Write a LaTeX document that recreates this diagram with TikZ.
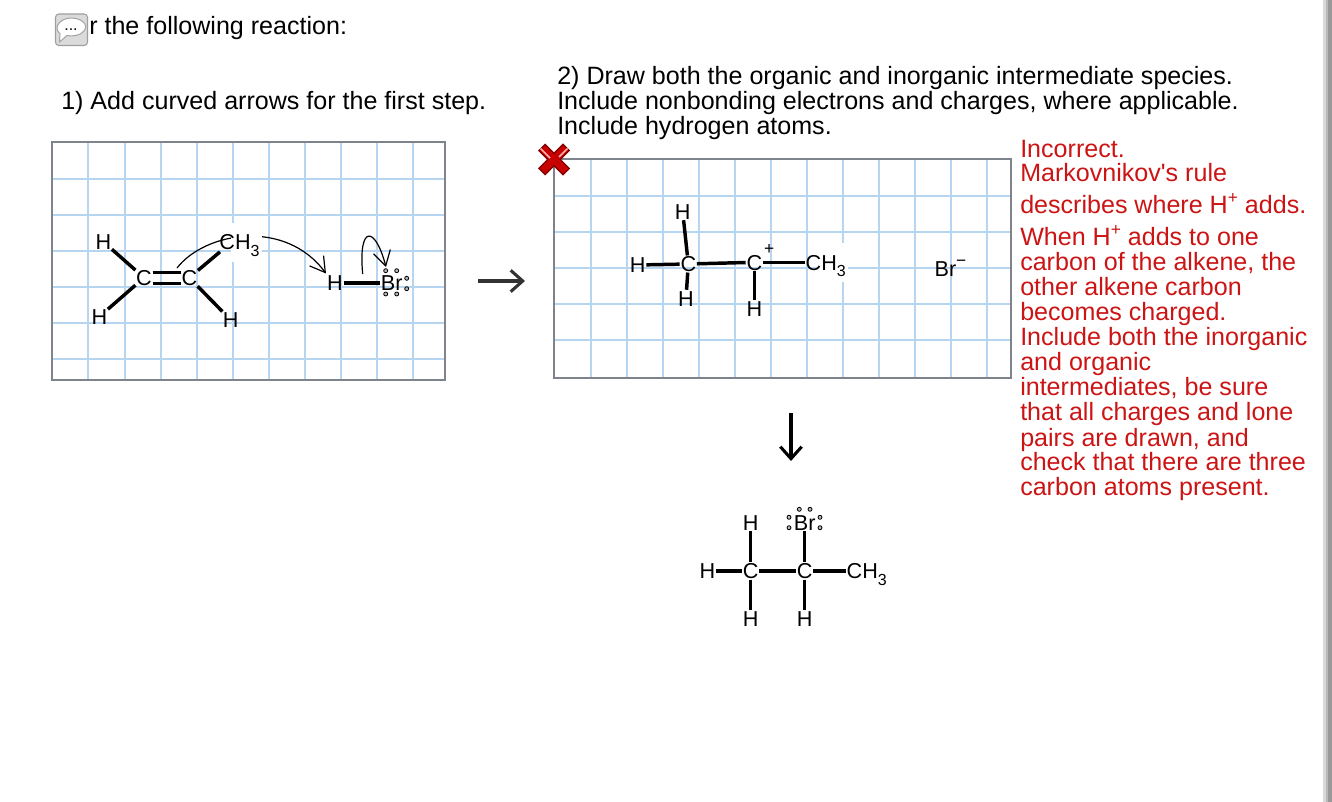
\documentclass[tikz,border=0pt]{standalone}
\usepackage{fontspec}
\setmainfont{Liberation Sans}
\newfontfamily\plainapos{Liberation Sans}
\usetikzlibrary{arrows.meta}
\definecolor{gridblue}{HTML}{B7D4F0}
\definecolor{frame}{HTML}{7F848C}
\definecolor{wrong}{HTML}{CC1414}
\newcommand{\subr}[1]{\raisebox{-0.3em}{\fontsize{12}{12}\selectfont #1}}
\newcommand{\supr}[1]{\raisebox{0.42em}{\fontsize{13}{13}\selectfont #1}}
\tikzset{
  gridline/.style={draw=gridblue,line width=1.6pt},
  gridframe/.style={draw=frame,line width=1.6pt},
  atom/.style={font=\fontsize{16.2}{16}\selectfont,inner sep=0.4pt,text height=11.6pt,text depth=0pt},
  bond/.style={line width=2.6pt,black},
  curly/.style={line width=0.9pt,black,-{Straight Barb[length=11pt,width=13pt,line width=0.9pt]}},
  bigarrow/.style={line width=2.3pt,-{Straight Barb[length=9pt,width=16pt,line width=2.3pt]}},
  prose/.style={font=\fontsize{18.8}{22}\selectfont,anchor=base west,inner sep=0pt,black},
  note/.style={prose,text=wrong},
  lonepair/.style={draw=black,fill=gray!55,line width=0.6pt},
}
\begin{document}
\begin{tikzpicture}[x=0.75pt,y=-0.75pt]
\useasboundingbox (0,0) rectangle (1332,802);
\fill[white] (0,0) rectangle (1332,802);
% scroll bar edge
\fill[gray!30] (1323,0) rectangle (1326,802);
\fill[gray!55] (1326,0) rectangle (1328,802);
\fill[gray!80!white] (1328,0) rectangle (1332,802);
% comment icon
\draw[draw=gray!75,fill=gray!28,rounded corners=2.5pt,line width=0.8pt] (55.5,14) rectangle (87.5,45.5);
\draw[draw=gray!70,fill=white,line width=0.8pt] (60,34) .. controls (52,26) and (62,18) .. (71,18) .. controls (82,18) and (89,25) .. (84,31) .. controls (80,36) and (72,36.5) .. (67,35.5) -- (59.5,42) -- cycle;
\node[inner sep=0pt,font=\fontsize{12}{12}\selectfont] (iconDots) at (71,30) {...};
% headings
\node[prose] (title) at (89,35) {r the following reaction:};
\node[prose] (stepOne) at (61,110) {1) Add curved arrows for the first step.};
\node[prose] (stepTwoA) at (557,85) {2) Draw both the organic and inorganic intermediate species.};
\node[prose] (stepTwoB) at (557,110) {Include nonbonding electrons and charges, where applicable.};
\node[prose] (stepTwoC) at (557,135) {Include hydrogen atoms.};
% grid 1
\foreach \x in {88,125,161,197,233,269,305,341,377,413} \draw[gridline] (\x,142) -- (\x,380);
\foreach \y in {179,215,251,287,323,359} \draw[gridline] (52,\y) -- (445,\y);
\draw[gridframe] (52,142) rectangle (445,380);
% grid 2
\foreach \x in {591,627,663,699,735,771,807,843,879,915,951,987} \draw[gridline] (\x,159) -- (\x,378);
\foreach \y in {196,232,268,304,340} \draw[gridline] (554,\y) -- (1011,\y);
\draw[gridframe] (554,159) rectangle (1011,378);
% first molecule
\coordinate (arrowOneStart) at (177,268);
\coordinate (arrowOneEnd) at (326,273.5);
\coordinate (arrowTwoStart) at (362.7,274);
\coordinate (arrowTwoEnd) at (386,267);
\draw[curly] (arrowOneStart) .. controls (205,232) and (285,218) .. (arrowOneEnd);
\fill[white] (231,223) rectangle (262,262);
\node[atom] (a1) at (103.3,241.7) {H};
\node[atom] (a2) at (99.3,316.7) {H};
\node[atom] (c1) at (144,277.7) {C};
\node[atom] (c2) at (189.3,277.7) {C};
\node[atom] (a3) at (230.7,320) {H};
\node[atom] (ch3a) at (239.5,242) {CH\subr{3}};
\node[atom] (hx) at (335,283) {H};
\node[atom] (brx) at (391.7,283) {Br};
\draw[bond] (a1) -- (c1);
\draw[bond] (a2) -- (c1);
\draw[bond] (c2) -- (a3);
\draw[bond] (c2) -- ([xshift=1pt,yshift=-1pt]ch3a.south west);
\draw[bond] ([yshift=4pt]c1.east) -- ([yshift=4pt]c2.west);
\draw[bond] ([yshift=-4.2pt]c1.east) -- ([yshift=-4.2pt]c2.west);
\draw[bond] (hx) -- (brx);
\draw[curly] (arrowTwoStart) .. controls (358,225) and (375,225) .. (arrowTwoEnd);
\foreach \p in {(385.7,270.7),(396.7,270.7),(385.7,294),(396.7,294),(406.7,278.3),(406.7,288.7)} \draw[lonepair] \p circle (2);
% reaction arrow
\coordinate (rxnA) at (478,281);
\coordinate (rxnB) at (525,281);
\draw[bigarrow,draw=black!80] (rxnA) -- (rxnB);
% red cross
\draw[line width=7.6pt,draw=red!50!black] (541.5,147) -- (566.5,172) (566.5,147) -- (541.5,172);
\draw[line width=5.4pt,draw=red!78!black] (542.5,148) -- (565.5,171) (565.5,148) -- (542.5,171);
\draw[line width=1.2pt,draw=red!30!white] (540.5,148.5) -- (550,158) (567.5,148.5) -- (559,157);
% second molecule
\fill[white] (819,243) rectangle (848,282);
\node[atom] (b1) at (682.7,211.7) {H};
\node[atom] (b2) at (637.7,265) {H};
\node[atom] (b3) at (686,298.3) {H};
\node[atom] (d1) at (688.3,264) {C};
\node[atom] (d2) at (754.3,262.3) {C};
\node[atom] (b4) at (754.3,309) {H};
\node[atom] (ch3b) at (825.7,262.3) {CH\subr{3}};
\node[font=\fontsize{13}{13}\selectfont,inner sep=0pt] (plus) at (769.3,249.5) {+};
\node[atom] (brion) at (950.5,268.3) {Br\supr{−}};
\draw[bond] (b1) -- (d1);
\draw[bond] (b2) -- (d1);
\draw[bond] (b3) -- (d1);
\draw[bond] (d1) -- (d2);
\draw[bond] (d2) -- (b4);
\draw[bond] (d2) -- (ch3b);
% down arrow
\coordinate (downA) at (791,413);
\coordinate (downB) at (791,461);
\draw[bigarrow] (downA) -- (downB);
% product
\node[atom] (e1) at (750.7,522.7) {H};
\node[atom] (brp) at (804.7,522.7) {Br};
\node[atom] (e2) at (707.3,571) {H};
\node[atom] (f1) at (750.7,571) {C};
\node[atom] (f2) at (804.7,571) {C};
\node[atom] (ch3c) at (866.7,571) {CH\subr{3}};
\node[atom] (e3) at (750.7,619) {H};
\node[atom] (e4) at (804.7,619) {H};
\draw[bond] (e1) -- (f1);
\draw[bond] (brp) -- (f2);
\draw[bond] (e2) -- (f1);
\draw[bond] (f1) -- (f2);
\draw[bond] (f2) -- (ch3c);
\draw[bond] (f1) -- (e3);
\draw[bond] (f2) -- (e4);
\foreach \p in {(799.3,509.3),(810,509.3),(789,517.3),(789,527.7),(820,517.3),(820,527.7)} \draw[lonepair] \p circle (2);
% feedback
\node[note] (n1) at (1020,158) {Incorrect.};
\node[note] (n2) at (1020,182) {Markovnikov{\plainapos'}s rule};
\node[note] (n3) at (1020,214) {describes where H\supr{+} adds.};
\node[note] (n4) at (1020,246) {When H\supr{+} adds to one};
\node[note] (n5) at (1020,271) {carbon of the alkene, the};
\node[note] (n6) at (1020,296) {other alkene carbon};
\node[note] (n7) at (1020,321) {becomes charged.};
\node[note] (n8) at (1020,346) {Include both the inorganic};
\node[note] (n9) at (1020,371) {and organic};
\node[note] (n10) at (1020,396) {intermediates, be sure};
\node[note] (n11) at (1020,421) {that all charges and lone};
\node[note] (n12) at (1020,446) {pairs are drawn, and};
\node[note] (n13) at (1020,470) {check that there are three};
\node[note] (n14) at (1020,495) {carbon atoms present.};
\end{tikzpicture}
\end{document}
